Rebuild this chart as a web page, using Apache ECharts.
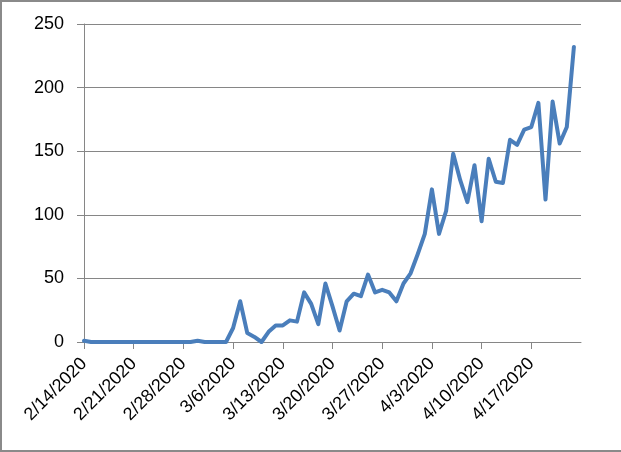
<!DOCTYPE html>
<html>
<head>
<meta charset="utf-8">
<script src="https://cdn.jsdelivr.net/npm/echarts@6/dist/echarts.min.js"></script>
<style>
  body { margin: 0; background: #fff; }
  #wrap { position: relative; width: 621px; height: 452px; }
  #chart { width: 621px; height: 452px; }
  #frame {
    position: absolute; left: 0; top: 0; width: 621px; height: 452px;
    box-sizing: border-box; border: 2px solid #8a8a8a; border-right: none;
    pointer-events: none;
  }
</style>
</head>
<body>
<div id="wrap">
  <div id="chart"></div>
  <div id="frame"></div>
</div>
<script>
// daily dates (last one only extends the axis to the closing tick)
const dates = [
  '2/14/2020', '2/15/2020', '2/16/2020', '2/17/2020', '2/18/2020', '2/19/2020', '2/20/2020',
  '2/21/2020', '2/22/2020', '2/23/2020', '2/24/2020', '2/25/2020', '2/26/2020', '2/27/2020',
  '2/28/2020', '2/29/2020', '3/1/2020', '3/2/2020', '3/3/2020', '3/4/2020', '3/5/2020',
  '3/6/2020', '3/7/2020', '3/8/2020', '3/9/2020', '3/10/2020', '3/11/2020', '3/12/2020',
  '3/13/2020', '3/14/2020', '3/15/2020', '3/16/2020', '3/17/2020', '3/18/2020', '3/19/2020',
  '3/20/2020', '3/21/2020', '3/22/2020', '3/23/2020', '3/24/2020', '3/25/2020', '3/26/2020',
  '3/27/2020', '3/28/2020', '3/29/2020', '3/30/2020', '3/31/2020', '4/1/2020', '4/2/2020',
  '4/3/2020', '4/4/2020', '4/5/2020', '4/6/2020', '4/7/2020', '4/8/2020', '4/9/2020',
  '4/10/2020', '4/11/2020', '4/12/2020', '4/13/2020', '4/14/2020', '4/15/2020', '4/16/2020',
  '4/17/2020', '4/18/2020', '4/19/2020', '4/20/2020', '4/21/2020', '4/22/2020', '4/23/2020',
  '4/24/2020'
]

// values, one per day from 2/14
const values = [
  1, 0, 0, 0, 0, 0, 0,
  0, 0, 0, 0, 0, 0, 0,
  0, 0, 1, 0, 0, 0, 0,
  11, 32, 7, 4, 0, 8, 13,
  13, 17, 16, 39, 30, 14, 46,
  28, 9, 32, 38, 36, 53, 39,
  41, 39, 32, 46, 54, 69, 85,
  120, 85, 103, 148, 127, 110, 139,
  95, 144, 126, 125, 159, 155, 167,
  169, 188, 112, 189, 156, 169, 232
]

const yTicks = { min: 0, max: 250, step: 50 }

var myChart = echarts.init(document.getElementById('chart'))

var option = {
  animation: false,
  backgroundColor: '#fff',
  grid: {
    left: 84,
    right: 40,
    top: 24,
    bottom: 110,
  },
  xAxis: {
    type: 'category',
    data: dates,
    boundaryGap: false,
    axisLine: { lineStyle: { color: '#868686', width: 1 } },
    axisTick: {
      show: true,
      interval: 6,
      length: 7,
      lineStyle: { color: '#868686' },
    },
    axisLabel: {
      interval: 6,
      rotate: 45,
      margin: 19,
      color: '#000',
      fontFamily: 'Liberation Sans',
      fontSize: 18,
      showMaxLabel: false,
      formatter: (value, idx) => (idx === dates.length - 1 ? '' : value),
    },
    splitLine: { show: false },
  },
  yAxis: {
    type: 'value',
    min: yTicks.min,
    max: yTicks.max,
    interval: yTicks.step,
    axisLine: { show: true, lineStyle: { color: '#868686', width: 1 } },
    axisTick: { show: true, length: 7, lineStyle: { color: '#868686' } },
    axisLabel: {
      margin: 20,
      color: '#000',
      fontFamily: 'Liberation Sans',
      fontSize: 18,
    },
    splitLine: { show: true, lineStyle: { color: '#868686', width: 1 } },
  },
  series: [
    {
      type: 'line',
      data: values,
      showSymbol: false,
      smooth: false,
      lineStyle: { color: '#4a7ebb', width: 4, join: 'round', cap: 'round' },
      itemStyle: { color: '#4a7ebb' },
    },
  ],
}

myChart.setOption(option)
</script>
</body>
</html>
